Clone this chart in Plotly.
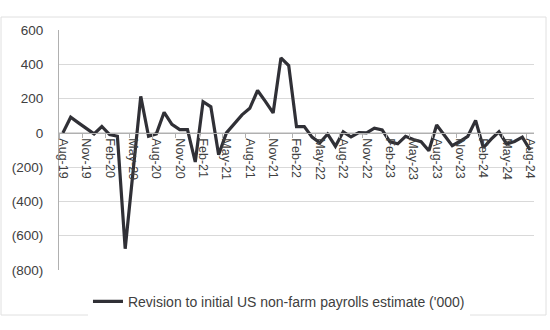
import plotly.graph_objects as go

months = ["Aug-19","Sep-19","Oct-19","Nov-19","Dec-19","Jan-20","Feb-20","Mar-20","Apr-20","May-20",
          "Jun-20","Jul-20","Aug-20","Sep-20","Oct-20","Nov-20","Dec-20","Jan-21","Feb-21","Mar-21",
          "Apr-21","May-21","Jun-21","Jul-21","Aug-21","Sep-21","Oct-21","Nov-21","Dec-21","Jan-22",
          "Feb-22","Mar-22","Apr-22","May-22","Jun-22","Jul-22","Aug-22","Sep-22","Oct-22","Nov-22",
          "Dec-22","Jan-23","Feb-23","Mar-23","Apr-23","May-23","Jun-23","Jul-23","Aug-23","Sep-23",
          "Oct-23","Nov-23","Dec-23","Jan-24","Feb-24","Mar-24","Apr-24","May-24","Jun-24","Jul-24",
          "Aug-24"]
revisions = [0, 91, 58, 26, -6, 37, -10, -20, -676, -230,
             213, -20, -6, 120, 50, 19, 19, -170, 182, 152,
             -128, 0, 50, 105, 143, 247, 184, 116, 437, 393,
             36, 37, -25, -58, -7, -78, 6, -24, 2, 0,
             27, 17, -52, -64, -20, -39, -52, -104, 46, -15,
             -75, -49, -20, 73, -87, -37, 6, -65, -50, -25,
             -100]
y_ticks = [600, 400, 200, 0, -200, -400, -600, -800]
y_tick_text = ["600", "400", "200", "0", "(200)", "(400)", "(600)", "(800)"]
series_name = "Revision to initial US non-farm payrolls estimate ('000)"

idx = list(range(len(months)))
label_idx = idx[::3]
label_text = months[::3]

fig = go.Figure()
fig.add_trace(go.Scatter(
    x=idx, y=revisions, mode="lines", name=series_name,
    line=dict(color="#303036", width=3.2),
))

font_family = "Liberation Sans, Arial, sans-serif"
fig.update_layout(
    width=550, height=330,
    margin=dict(l=59, r=16, t=30, b=60),
    paper_bgcolor="white", plot_bgcolor="white",
    font=dict(family=font_family, color="#404040", size=13),
    showlegend=True,
    legend=dict(orientation="h", x=0.061, xanchor="left", y=-0.132, yanchor="middle",
                font=dict(size=14, color="#404040"), itemwidth=30),
    xaxis=dict(
        range=[-0.5, len(months) - 0.5],
        tickmode="array", tickvals=label_idx, ticktext=label_text,
        tickangle=90, tickfont=dict(size=12.5, color="#404040"),
        showgrid=False, zeroline=False,
        showline=True, linecolor="#b0b0b0", linewidth=1,
        anchor="free", position=800 / 1400,
        ticks="", ticklabelstandoff=2,
        minor=dict(tick0=-0.5, dtick=3, ticks="outside", ticklen=4, tickcolor="#b0b0b0"),
    ),
    yaxis=dict(
        range=[-800, 600],
        tickmode="array", tickvals=y_ticks, ticktext=y_tick_text,
        tickfont=dict(size=13.5, color="#404040"),
        showgrid=True, gridcolor="#d9d9d9", gridwidth=1,
        zeroline=False,
        showline=True, linecolor="#b0b0b0", linewidth=1,
        ticks="", ticklabelstandoff=12,
    ),
    shapes=[dict(type="rect", xref="paper", yref="paper",
                 x0=-58 / 475, x1=487 / 475, y0=-45 / 240, y1=253 / 240,
                 line=dict(color="#e0e0e0", width=1), fillcolor="rgba(0,0,0,0)", layer="below")],
)

fig.write_html("out.html")
